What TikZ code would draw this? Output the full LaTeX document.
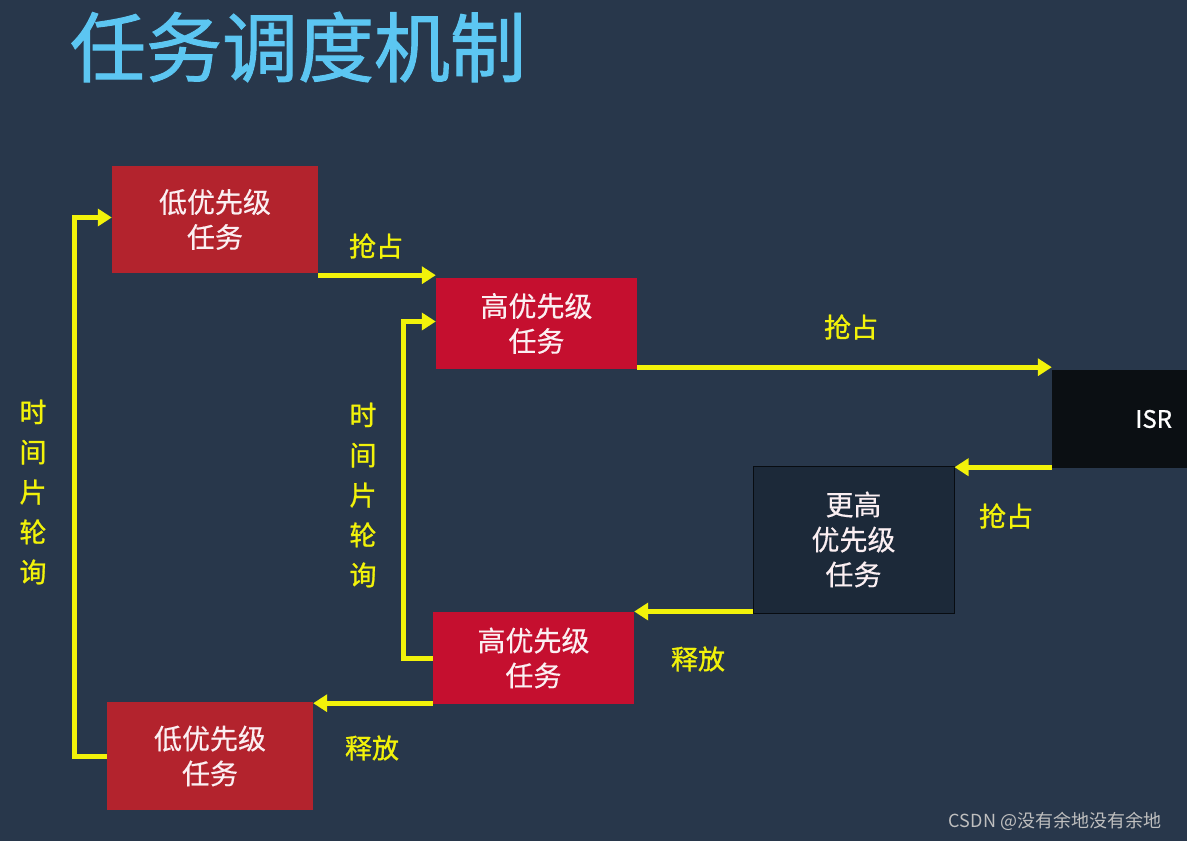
\documentclass[tikz,border=0pt]{standalone}
\usepackage{fontspec}
\setmainfont{Noto Sans CJK SC}
\newfontfamily\titlefont[FakeBold=1.2]{Noto Sans CJK SC}
\newfontfamily\lblfont[FakeBold=1.0]{Noto Sans CJK SC}
\newfontfamily\boxfont[FakeBold=0.4]{Noto Sans CJK SC}
\usetikzlibrary{arrows.meta}
\definecolor{bg}{HTML}{28374B}
\definecolor{lowred}{HTML}{B3232D}
\definecolor{highred}{HTML}{C50F2F}
\definecolor{ylw}{HTML}{F2F20A}
\definecolor{titleblue}{HTML}{5CC6F2}
\definecolor{hhfill}{HTML}{1C2939}
\definecolor{isrfill}{HTML}{0B0F13}
\definecolor{txtw}{HTML}{FBEFF2}
\tikzset{
  taskbox/.style={inner sep=0pt, align=center, text=txtw, font=\boxfont\fontsize{28}{35}\selectfont},
  lowbox/.style={taskbox, fill=lowred, minimum width=206pt},
  highbox/.style={taskbox, fill=highred, minimum width=201pt},
  arr/.style={draw=ylw, line width=5pt, -{Triangle[length=14pt,width=17pt]}},
  lbl/.style={text=ylw, font=\lblfont\fontsize{27}{40}\selectfont, align=center, inner sep=0pt}
}
\begin{document}
\begin{tikzpicture}[x=1pt,y=-1pt]
\fill[bg] (0,0) rectangle (1187,841);
\useasboundingbox (0,0) rectangle (1187,841);
\node[text=titleblue, font=\titlefont\fontsize{76}{80}\selectfont, inner sep=0pt] (title) at (298,47) {任务调度机制};

\node[lowbox, minimum height=107pt] (L1) at (215,219.5) {低优先级\\任务};
\node[highbox, minimum height=91pt] (H1) at (536.5,323.5) {高优先级\\任务};
\node[fill=isrfill, text=white, font=\lblfont\fontsize{24}{28}\selectfont, minimum height=98pt, text width=105pt, inner xsep=15pt, align=right] (ISR) at (1119.5,419) {ISR};
\node[taskbox, fill=hhfill, draw=black!70!hhfill, line width=1pt, minimum width=201pt, minimum height=147pt, text=txtw] (HH) at (853.5,539.5) {更高\\优先级\\任务};
\node[highbox, minimum height=92pt] (H2) at (533.5,658) {高优先级\\任务};
\node[lowbox, minimum height=108pt] (L2) at (210,756) {低优先级\\任务};

\draw[arr] ([yshift=-2pt]L1.south east) -- ([yshift=-2pt]L1.south east -| H1.west);
\draw[arr] ([yshift=2pt]H1.south east) -- ([yshift=2pt]H1.south east -| ISR.west);
\draw[arr] ([yshift=1pt]ISR.south west) -- ([yshift=1pt]ISR.south west -| HH.east);
\draw[arr] ([yshift=2pt]HH.south west) -- ([yshift=2pt]HH.south west -| H2.east);
\draw[arr] ([yshift=1pt]H2.south west) -- ([yshift=1pt]H2.south west -| L2.east);
\draw[arr] (H2.west) -- ([xshift=-29pt]H2.west) |- ([yshift=2pt]H1.west);
\draw[arr] (L2.west) -- ([xshift=-32pt]L2.west) |- ([yshift=2pt]L1.west);

\node[lbl] (p1) at (376,246) {抢占};
\node[lbl] (p2) at (851,327) {抢占};
\node[lbl] (p3) at (1006,516) {抢占};
\node[lbl] (r1) at (698,659) {释放};
\node[lbl] (r2) at (372,748) {释放};
\node[lbl] (t1) at (33,492) {时\\间\\片\\轮\\询};
\node[lbl] (t2) at (363,495) {时\\间\\片\\轮\\询};

\node[text=black!25!white, font=\fontsize{18}{20}\selectfont, inner sep=0pt] (wm) at (1055,821) {CSDN @没有余地没有余地};
\end{tikzpicture}
\end{document}
